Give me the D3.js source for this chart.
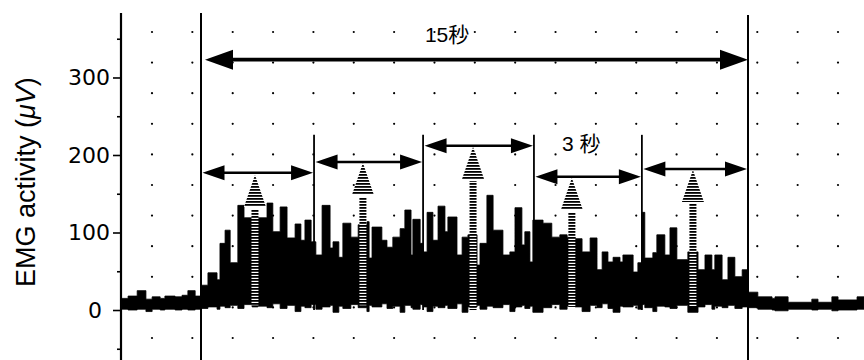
<!DOCTYPE html>
<html>
<head>
<meta charset="utf-8">
<script src="https://cdn.jsdelivr.net/npm/d3@7"></script>
<style>
  body { margin: 0; background: #fff; }
  svg { display: block; }
</style>
</head>
<body>
<div id="chart"></div>
<script>
// EMG trace, drawn as steps: start time of each step (s), its peak and its floor (µV)
const stepTimes = [-2.19, -2.00, -1.75, -1.51, -1.34, -1.12, -0.99, -0.71, -0.52, -0.36,
  -0.16, 0.00, 0.19, 0.44, 0.52, 0.66, 0.80, 1.01, 1.18, 1.40,
  1.56, 1.81, 1.97, 2.17, 2.36, 2.58, 2.74, 2.85, 3.02, 3.15,
  3.32, 3.54, 3.62, 3.78, 3.89, 4.11, 4.31, 4.55, 4.61, 4.69,
  4.96, 5.10, 5.26, 5.46, 5.59, 5.76, 5.81, 6.01, 6.09, 6.20,
  6.36, 6.50, 6.69, 6.77, 7.02, 7.16, 7.32, 7.57, 7.65, 7.84,
  8.01, 8.28, 8.47, 8.61, 8.80, 8.88, 9.02, 9.10, 9.38, 9.62,
  9.84, 10.04, 10.26, 10.45, 10.67, 10.86, 11.00, 11.16, 11.30, 11.49,
  11.57, 11.85, 11.98, 12.09, 12.17, 12.39, 12.50, 12.72, 12.86, 13.05,
  13.35, 13.63, 13.82, 14.01, 14.09, 14.29, 14.45, 14.64, 14.84, 15.00,
  15.27, 15.66, 15.74, 16.10, 16.75, 16.92, 17.30, 17.47, 17.99];
const stepPeaks = [15, 18, 25, 14, 17, 15, 18, 17, 19, 25,
  18, 32, 48, 39, 86, 103, 61, 135, 119, 119,
  119, 138, 101, 133, 93, 111, 90, 116, 88, 71,
  135, 80, 88, 68, 112, 94, 110, 114, 67, 107,
  90, 81, 94, 105, 129, 71, 117, 86, 75, 126,
  90, 134, 101, 120, 71, 94, 97, 58, 86, 148,
  103, 71, 75, 132, 84, 101, 62, 116, 112, 94,
  97, 94, 92, 75, 93, 52, 75, 62, 68, 62,
  71, 49, 61, 126, 67, 74, 97, 71, 106, 65,
  75, 52, 71, 52, 71, 39, 68, 43, 52, 23,
  17, 15, 17, 10, 14, 10, 17, 13, 17];
const stepFloors = [1, 0, 1, -2, 1, 0, 1, 0, 1, 0,
  1, 2, 4, 1, 5, 3, 6, 2, 7, 4,
  5, 3, 8, 2, 6, -2, 5, 3, 7, 1,
  4, 6, -3, 5, 2, 7, 3, -2, 6, 4,
  8, 2, 5, -3, 6, 3, 1, 7, 4, -2,
  5, 3, 6, 2, 8, -3, 4, 6, 1, 5,
  3, 7, -2, 4, 6, 2, 5, -3, 3, 7,
  1, 5, 4, -2, 6, 3, 8, 2, -3, 5,
  4, 6, 1, 7, 3, -2, 5, 4, 2, 6,
  -3, 4, 7, 1, 5, 3, 6, 2, 4, 3,
  1, 0, -1, 1, 0, 1, -1, 0, 1];
const traceEnd = 18.18;

// the 15 s period and its five 3 s windows (s), arrow heights (µV)
const periodEdges = [0, 15];
const periodLevel = 323;
const windowEdges = [0, 3.10, 6.09, 9.13, 12.09, 15];
const windowLevels = [177, 191, 212, 172, 182];
const windowTop = 226;

// hatched upward markers, one per window
const markerTimes = [1.48, 4.44, 7.46, 10.17, 13.49];
const markerTips = [174, 190, 210, 170, 181];
const markerFeet = [6, 6, 0, 4, 4];

// axis
const yTicks = [0, 100, 200, 300];
const yMinorTicks = [-50, 50, 150, 250, 350];
const yLabel = 'EMG activity (';
const yUnit = 'μV';
const periodLabel = '15秒';
const windowLabel = '3 秒';
const periodLabelPos = [6.14, 346];
const windowLabelPos = [9.90, 205];

class EmgChart {
    constructor(_config) {
        this.config = {
            parentElement: _config.parentElement,
            containerWidth: _config.containerWidth || 864,
            containerHeight: _config.containerHeight || 360
        };
        this.initVis();
    }

    initVis() {
        let vis = this;

        vis.svg = d3.select(vis.config.parentElement).append('svg')
            .attr('width', vis.config.containerWidth)
            .attr('height', vis.config.containerHeight);

        // time (s) -> px; the 15 s period sits between the two long verticals
        vis.x = d3.scaleLinear().domain([0, 15]).range([201, 748]);
        vis.y = d3.scaleLinear().domain([-64.5, 383.2]).range([360, 13]);

        // background dot grid of the recording paper
        vis.gx = d3.scaleLinear().domain([0, 17]).range([152, 838]);
        vis.gy = d3.scaleLinear().domain([0, 10]).range([32, 338]);

        const defs = vis.svg.append('defs');
        const hatch = defs.append('pattern')
            .attr('id', 'hatch')
            .attr('patternUnits', 'userSpaceOnUse')
            .attr('width', 8)
            .attr('height', 3);
        hatch.append('rect').attr('width', 8).attr('height', 3).attr('fill', '#fff');
        hatch.append('rect').attr('width', 8).attr('height', 1.8).attr('fill', '#000');

        vis.renderVis();
    }

    doubleArrow(g, x0, x1, yy, lw, len, half) {
        g.append('line')
            .attr('x1', x0 + len - 2).attr('x2', x1 - len + 2)
            .attr('y1', yy).attr('y2', yy)
            .attr('stroke', '#000').attr('stroke-width', lw);
        g.append('path')
            .attr('d', `M${x0},${yy}L${x0 + len},${yy - half}L${x0 + len},${yy + half}Z`)
            .attr('fill', '#000');
        g.append('path')
            .attr('d', `M${x1},${yy}L${x1 - len},${yy - half}L${x1 - len},${yy + half}Z`)
            .attr('fill', '#000');
    }

    renderVis() {
        let vis = this;
        const x = vis.x, y = vis.y;

        // dots
        vis.svg.append('g').selectAll('circle')
                .data(d3.cross(d3.range(18), d3.range(11)))
            .join('circle')
                .attr('cx', d => vis.gx(d[0]))
                .attr('cy', d => vis.gy(d[1]))
                .attr('r', 1.1)
                .attr('fill', '#000');

        // EMG trace
        const trace = stepTimes.map((t, i) => ({t: t, hi: stepPeaks[i], lo: stepFloors[i]}));
        const last = trace[trace.length - 1];
        trace.push({t: traceEnd, hi: last.hi, lo: last.lo});

        const area = d3.area()
            .curve(d3.curveStepAfter)
            .x(d => x(d.t))
            .y0(d => y(d.lo))
            .y1(d => y(d.hi));

        vis.svg.append('path')
            .datum(trace)
            .attr('d', area)
            .attr('fill', '#000')
            .attr('stroke', '#000')
            .attr('stroke-width', 0.8);

        // window separators
        vis.svg.append('g').selectAll('line')
                .data(windowEdges.slice(1, -1))
            .join('line')
                .attr('x1', d => x(d)).attr('x2', d => x(d))
                .attr('y1', y(windowTop)).attr('y2', y(0))
                .attr('stroke', '#000').attr('stroke-width', 1.8);

        // start / end of the 15 s period
        vis.svg.append('g').selectAll('line')
                .data(periodEdges)
            .join('line')
                .attr('x1', d => x(d)).attr('x2', d => x(d))
                .attr('y1', (d, i) => i === 0 ? y.range()[1] : y.range()[1] + 2)
                .attr('y2', y.range()[0])
                .attr('stroke', '#000').attr('stroke-width', 2);

        // 15 s arrow
        const arrows = vis.svg.append('g');
        vis.doubleArrow(arrows, x(periodEdges[0]) + 4, x(periodEdges[1]), y(periodLevel), 3.6, 28, 10);

        // 3 s arrows
        windowLevels.forEach((lv, i) => {
            vis.doubleArrow(arrows, x(windowEdges[i]) + 1.5, x(windowEdges[i + 1]) - 1, y(lv), 2.4, 22, 7.5);
        });

        // hatched markers
        const markers = vis.svg.append('g');
        markerTimes.forEach((t, i) => {
            const cx = x(t);
            const tip = Math.round(y(markerTips[i]));
            const base = tip + 32;
            markers.append('rect')
                .attr('x', cx - 3.5).attr('width', 7)
                .attr('y', base + 2).attr('height', y(markerFeet[i]) - base - 2)
                .attr('fill', 'url(#hatch)');
            markers.append('path')
                .attr('d', `M${cx},${tip}L${cx + 11},${base}L${cx - 11},${base}Z`)
                .attr('fill', 'url(#hatch)');
        });

        // annotation text
        vis.svg.append('text')
            .attr('x', x(periodLabelPos[0])).attr('y', y(periodLabelPos[1]))
            .attr('font-family', '"Liberation Sans", "Noto Sans CJK JP", sans-serif')
            .attr('font-size', 21)
            .text(periodLabel);
        vis.svg.append('text')
            .attr('x', x(windowLabelPos[0])).attr('y', y(windowLabelPos[1]))
            .attr('font-family', '"Liberation Sans", "Noto Sans CJK JP", sans-serif')
            .attr('font-size', 21)
            .text(windowLabel);

        // y axis
        const axisX = 121;
        const axisG = vis.svg.append('g').attr('transform', `translate(${axisX},0)`);
        axisG.append('line')
            .attr('y1', y.range()[1]).attr('y2', y.range()[0])
            .attr('stroke', '#000').attr('stroke-width', 2.2);

        const major = axisG.append('g')
            .call(d3.axisLeft(y).tickValues(yTicks).tickSize(8).tickPadding(3).tickFormat(d3.format('d')));
        major.select('.domain').remove();
        major.selectAll('line').attr('stroke-width', 1.6);
        major.selectAll('text')
            .attr('font-family', '"DejaVu Sans", sans-serif')
            .attr('font-size', 22)
            .attr('fill', '#000')
            .attr('dx', d => d === 0 ? -8 : 0);

        const minor = axisG.append('g')
            .call(d3.axisLeft(y).tickValues(yMinorTicks).tickSize(4).tickFormat(''));
        minor.select('.domain').remove();
        minor.selectAll('line').attr('stroke-width', 1.6);

        // axis title
        const title = vis.svg.append('text')
            .attr('transform', `translate(35,${y(165)}) rotate(-90)`)
            .attr('text-anchor', 'middle')
            .attr('font-family', '"Liberation Sans", Arial, sans-serif')
            .attr('font-size', 27);
        title.append('tspan').text(yLabel);
        title.append('tspan').attr('font-style', 'italic').text(yUnit);
        title.append('tspan').text(')');
    }
}

new EmgChart({parentElement: '#chart'});
</script>
</body>
</html>
